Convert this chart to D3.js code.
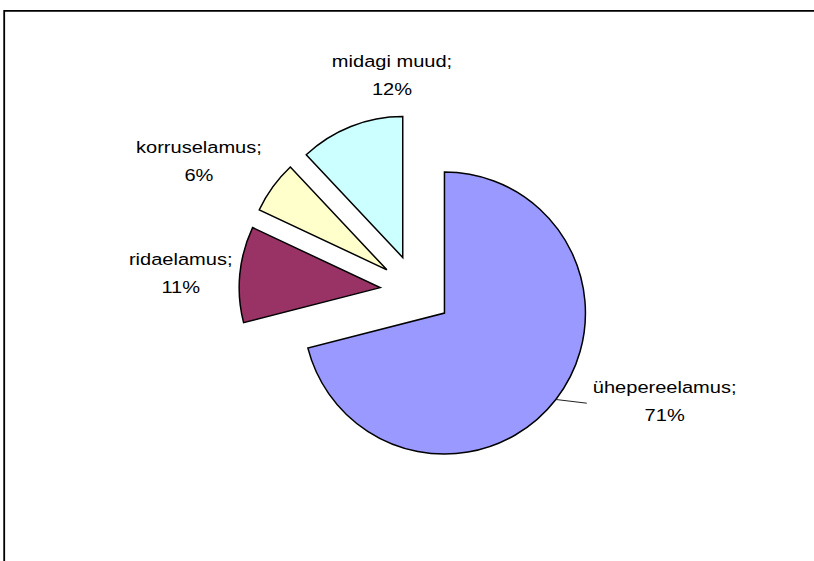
<!DOCTYPE html>
<html>
<head>
<meta charset="utf-8">
<script src="https://cdn.jsdelivr.net/npm/d3@7"></script>
<style>
  html, body { margin: 0; padding: 0; background: #fff; overflow: hidden; }
  svg { display: block; overflow: hidden; }
  text { font-family: "Liberation Sans", Arial, sans-serif; font-size: 17px; fill: #000; }
</style>
</head>
<body>
<div id="chart"></div>
<script>
// data
const categories = ["ühepereelamus", "ridaelamus", "korruselamus", "midagi muud"];
const shares = [71, 11, 6, 12];
const colors = ["#9999FF", "#993366", "#FFFFCC", "#CCFFFF"];

(function () {
  const width = 814;
  const height = 561;

  const cx = 416;
  const cy = 291;
  const radius = 141;
  const explode = 36;

  // where each label sits, as distance and angle nudge from the slice middle
  const labelDist = [272, 236, 253, 217];
  const labelNudge = [-13.9, -1.0, -5.1, 15.25];
  const textStretch = 1.18;

  const svg = d3.select('#chart').append('svg')
    .attr('width', width)
    .attr('height', height);

  // chart area frame (runs off the right and bottom)
  svg.append('path')
    .attr('d', `M${width + 5},10.8 H4.2 V${height + 5}`)
    .attr('fill', 'none')
    .attr('stroke', '#000')
    .attr('stroke-width', 1.8);

  const pie = d3.pie().sort(null).value(d => d.value);
  const arcs = pie(categories.map((c, i) => ({ name: c, value: shares[i], i })));

  const arc = d3.arc().innerRadius(0).outerRadius(radius);

  function midAngle(d) { return (d.startAngle + d.endAngle) / 2; }
  function polar(a, r) { return [Math.sin(a) * r, -Math.cos(a) * r]; }

  const g = svg.append('g').attr('transform', `translate(${cx},${cy})`);

  g.selectAll('path.slice')
    .data(arcs)
    .join('path')
      .attr('class', 'slice')
      .attr('d', arc)
      .attr('transform', function (d) {
        const p = polar(midAngle(d), explode);
        return `translate(${p[0]},${p[1]})`;
      })
      .attr('fill', d => colors[d.data.i])
      .attr('stroke', '#000')
      .attr('stroke-width', 1.5)
      .attr('stroke-linejoin', 'miter');

  const labels = g.selectAll('g.label')
    .data(arcs)
    .join('g')
      .attr('class', 'label')
      .attr('transform', function (d) {
        const a = midAngle(d) + labelNudge[d.data.i] * Math.PI / 180;
        const p = polar(a, labelDist[d.data.i]);
        return `translate(${p[0]},${p[1] - 8}) scale(${textStretch},1)`;
      });

  labels.append('text')
    .attr('text-anchor', 'middle')
    .attr('y', 0)
    .text(d => d.data.name + ';');

  labels.append('text')
    .attr('text-anchor', 'middle')
    .attr('y', 28)
    .text(d => d.data.value + '%');

  // leader line for the big slice
  const big = arcs[0];
  const from = polar(midAngle(big), radius + explode);
  const lp = polar(midAngle(big) + labelNudge[0] * Math.PI / 180, labelDist[0]);
  const firstLine = labels.filter(d => d.data.i === 0).select('text').node();
  const halfW = firstLine.getComputedTextLength() * textStretch / 2;

  g.append('path')
    .attr('d', d3.line()([from, [lp[0] - halfW - 6, lp[1] + 2]]))
    .attr('fill', 'none')
    .attr('stroke', '#222')
    .attr('stroke-width', 1);
})();
</script>
</body>
</html>
